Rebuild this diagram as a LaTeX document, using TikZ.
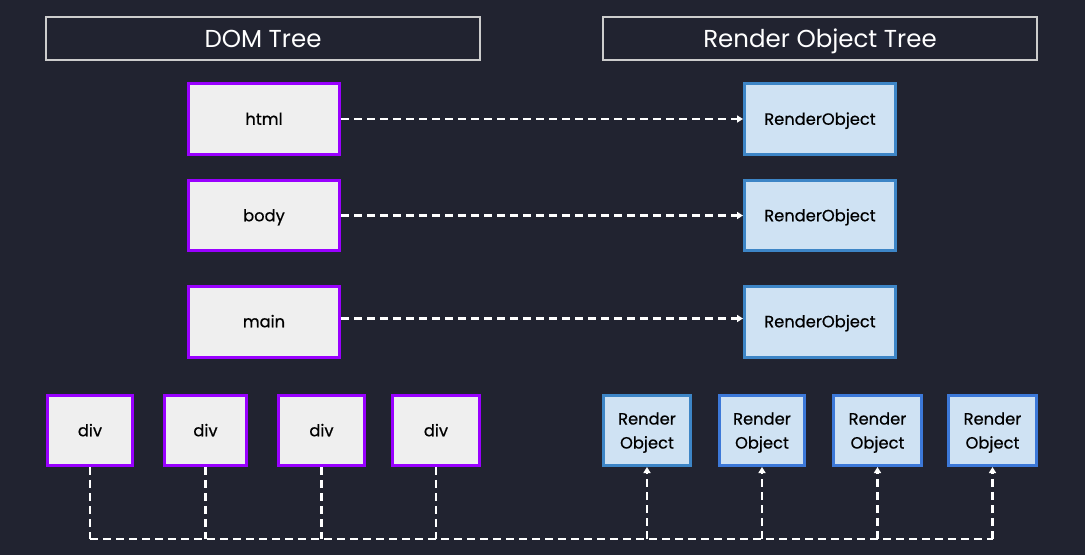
\documentclass[tikz,border=0pt]{standalone}
\usepackage{fontspec}
\setmainfont{Poppins}
\newfontfamily\medfont{Poppins}[FakeBold=0.6]
\usetikzlibrary{arrows.meta}
\definecolor{bgdark}{HTML}{212330}
\definecolor{domfill}{HTML}{EFEFEF}
\definecolor{domline}{HTML}{9900FF}
\definecolor{rofill}{HTML}{CFE2F3}
\definecolor{roline}{HTML}{3D85C6}
\definecolor{roline2}{HTML}{3C78D8}
\definecolor{headline}{HTML}{CCCCCC}
\begin{document}
\begin{tikzpicture}[x = 1pt, y = -1pt,
    header/.style = {draw = headline, line width = 1.5pt, text = white, minimum width = 434pt, minimum height = 43pt, inner sep = 0pt, text height = 17pt, text depth = 0pt, font = \fontsize{24.5}{28}\selectfont},
    dombox/.style = {draw = domline, fill = domfill, line width = 3pt, minimum height = 71pt, inner sep = 0pt, text height = 11.5pt, text depth = 0pt, font = \medfont\fontsize{16.3}{19}\selectfont},
    robox/.style = {draw = roline, fill = rofill, line width = 3pt, minimum height = 71pt, inner sep = 0pt, align = center, text depth = 0pt, font = \medfont\fontsize{16.3}{24}\selectfont},
    link/.style = {draw = white, line width = 2.2pt, dash pattern = on 8pt off 5pt},
    tip/.style = {-{Triangle[width = 7pt, length = 6pt]}}]
                    \fill[bgdark] (0, 0) rectangle (1085, 555);
                    \useasboundingbox (0, 0) rectangle (1085, 555);

                    \node[header] (DOM) at (263, 38.5) {DOM Tree};
                    \node[header] (RO) at (820, 38.5) {Render Object Tree};

                    \node[dombox, minimum width = 151pt] (html) at (264, 119) {html};
                    \node[dombox, minimum width = 151pt, minimum height = 70pt] (body) at (264, 215.5) {body};
                    \node[dombox, minimum width = 151pt] (main) at (264, 321.5) {main};

                    \node[robox, text height = 11.5pt, minimum width = 151pt] (r1) at (820, 119) {RenderObject};
                    \node[robox, text height = 11.5pt, minimum width = 151pt, minimum height = 70pt] (r2) at (820, 215.5) {RenderObject};
                    \node[robox, text height = 11.5pt, minimum width = 151pt] (r3) at (820, 321.5) {RenderObject};

                    \node[dombox, minimum width = 85pt, minimum height = 70pt] (d1) at (90, 430.5) {div};
                    \node[dombox, minimum width = 82pt, minimum height = 70pt] (d2) at (205.5, 430.5) {div};
                    \node[dombox, minimum width = 86pt, minimum height = 70pt] (d3) at (321.5, 430.5) {div};
                    \node[dombox, minimum width = 87pt, minimum height = 70pt] (d4) at (436, 430.5) {div};

                    \node[robox, minimum width = 87pt, minimum height = 70pt] (s1) at (647, 430.5) {Render\\Object};
                    \node[robox, draw = roline2, minimum width = 85pt, minimum height = 70pt] (s2) at (762, 430.5) {Render\\Object};
                    \node[robox, draw = roline2, minimum width = 88pt, minimum height = 70pt] (s3) at (877.5, 430.5) {Render\\Object};
                    \node[robox, draw = roline2, minimum width = 88pt, minimum height = 70pt] (s4) at (992.5, 430.5) {Render\\Object};

                    \draw[link, tip] (html) -- (r1);
                    \draw[link, tip] (body) -- (r2);
                    \draw[link, tip] (main.east) ++(0, -3) -- ([yshift = 3pt] r3.west);

                    \coordinate (bus) at (0, 539);
                    \draw[link] (d1.south) -- (d1.south |- bus);
                    \draw[link] (d2.south) -- (d2.south |- bus);
                    \draw[link] (d3.south) -- (d3.south |- bus);
                    \draw[link] (d4.south) -- (d4.south |- bus);
                    \draw[link] (d1.south |- bus) -- (s4.south |- bus);
                    \draw[link, tip] (s1.south |- bus) -- (s1.south);
                    \draw[link, tip] (s2.south |- bus) -- (s2.south);
                    \draw[link, tip] (s3.south |- bus) -- (s3.south);
                    \draw[link, tip] (s4.south |- bus) -- (s4.south);
                \end{tikzpicture}
\end{document}
